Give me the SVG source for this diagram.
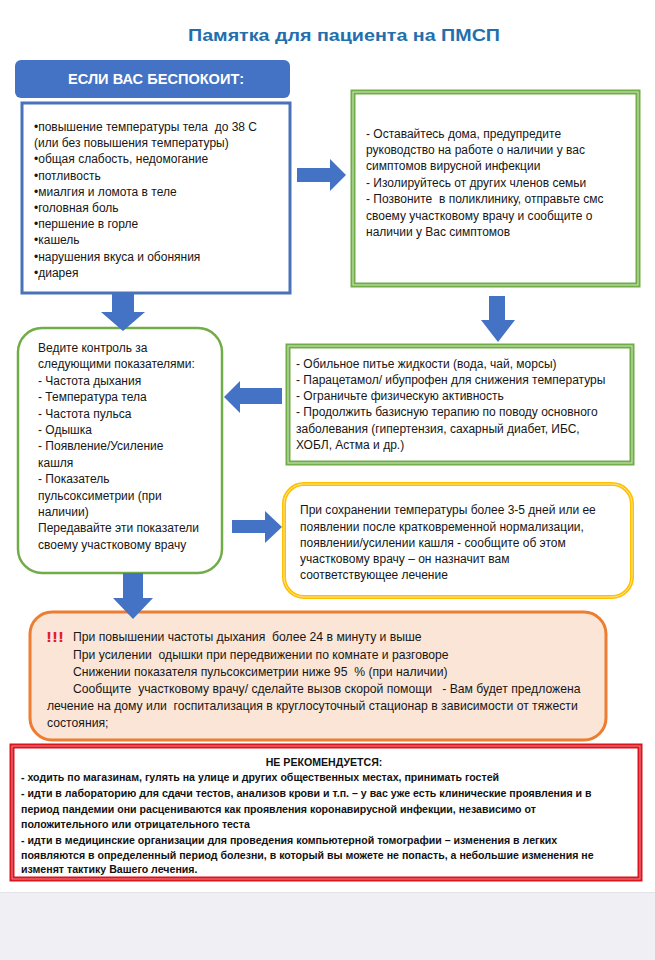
<svg xmlns="http://www.w3.org/2000/svg" width="655" height="960" viewBox="0 0 655 960">
<defs>
<style>
text{white-space:pre}
.t{font-family:"Liberation Sans",Arial,sans-serif;font-size:12px;fill:#161616}
.o{font-family:"Liberation Sans",Arial,sans-serif;font-size:12.2px;fill:#161616}
.r{font-family:"Liberation Sans",Arial,sans-serif;font-size:10.6px;font-weight:bold;fill:#111}
.arrow{fill:#4472c4}
.g{fill:#fff;stroke:#70ad47;stroke-width:5}
.gi{fill:none;stroke:#c5e0b4;stroke-width:1.2}
</style>
</defs>
<rect x="0" y="0" width="655" height="960" fill="#f0eff4"/>
<rect x="0" y="0" width="655" height="892" fill="#ffffff"/>
<line x1="0" y1="892.5" x2="655" y2="892.5" stroke="#e2e2e8" stroke-width="1"/>

<g id="title">
<text x="344" y="41" text-anchor="middle" font-family="Liberation Sans, Arial, sans-serif" font-size="17" font-weight="bold" fill="#236fae" textLength="312" lengthAdjust="spacingAndGlyphs">Памятка для пациента на ПМСП</text>
</g>

<g id="header">
<rect x="15" y="60" width="275" height="38" rx="6" fill="#4472c4"/>
<text x="156" y="84" text-anchor="middle" font-family="Liberation Sans, Arial, sans-serif" font-size="14" font-weight="bold" fill="#fff" textLength="176" lengthAdjust="spacingAndGlyphs">ЕСЛИ ВАС БЕСПОКОИТ:</text>
</g>

<g id="symptoms">
<rect x="22" y="103" width="268" height="190" fill="#fff" stroke="#4a72b8" stroke-width="3"/>
<text class="t" x="34" y="131">•повышение температуры тела  до 38 С</text>
<text class="t" x="34" y="147.2">(или без повышения температуры)</text>
<text class="t" x="34" y="163.4">•общая слабость, недомогание</text>
<text class="t" x="34" y="179.6">•потливость</text>
<text class="t" x="34" y="195.8">•миалгия и ломота в теле</text>
<text class="t" x="34" y="212">•головная боль</text>
<text class="t" x="34" y="228.2">•першение в горле</text>
<text class="t" x="34" y="244.4">•кашель</text>
<text class="t" x="34" y="260.6">•нарушения вкуса и обоняния</text>
<text class="t" x="34" y="276.8">•диарея</text>
</g>

<g id="stay-home">
<rect class="g" x="353" y="92" width="285" height="193"/>
<rect class="gi" x="353" y="92" width="285" height="193"/>
<text class="t" x="366" y="137.5">- Оставайтесь дома, предупредите</text>
<text class="t" x="366" y="153.9">руководство на работе о наличии у вас</text>
<text class="t" x="366" y="170.3">симптомов вирусной инфекции</text>
<text class="t" x="366" y="186.7">- Изолируйтесь от других членов семьи</text>
<text class="t" x="366" y="203.1">- Позвоните  в поликлинику, отправьте смс</text>
<text class="t" x="366" y="219.5">своему участковому врачу и сообщите о</text>
<text class="t" x="366" y="235.9">наличии у Вас симптомов</text>
</g>

<g id="treatment">
<rect class="g" x="288" y="346" width="344" height="117"/>
<rect class="gi" x="288" y="346" width="344" height="117"/>
<text class="t" x="296" y="367.5">- Обильное питье жидкости (вода, чай, морсы)</text>
<text class="t" x="296" y="383.8">- Парацетамол/ ибупрофен для снижения температуры</text>
<text class="t" x="296" y="400.1">- Ограничьте физическую активность</text>
<text class="t" x="296" y="416.4">- Продолжить базисную терапию по поводу основного</text>
<text class="t" x="296" y="432.7">заболевания (гипертензия, сахарный диабет, ИБС,</text>
<text class="t" x="296" y="449">ХОБЛ, Астма и др.)</text>
</g>

<g id="monitoring">
<rect x="18" y="328" width="204" height="245" rx="24" fill="#fff" stroke="#70ad47" stroke-width="2.5"/>
<text class="t" x="38" y="352">Ведите контроль за</text>
<text class="t" x="38" y="368.4">следующими показателями:</text>
<text class="t" x="38" y="384.8">- Частота дыхания</text>
<text class="t" x="38" y="401.2">- Температура тела</text>
<text class="t" x="38" y="417.6">- Частота пульса</text>
<text class="t" x="38" y="434">- Одышка</text>
<text class="t" x="38" y="450.4">- Появление/Усиление</text>
<text class="t" x="38" y="466.8">кашля</text>
<text class="t" x="38" y="483.2">- Показатель</text>
<text class="t" x="38" y="499.6">пульсоксиметрии (при</text>
<text class="t" x="38" y="516">наличии)</text>
<text class="t" x="38" y="532.4">Передавайте эти показатели</text>
<text class="t" x="38" y="548.8">своему участковому врачу</text>
</g>

<g id="persisting-fever">
<rect x="284" y="484" width="348" height="113" rx="20" fill="#fff" stroke="#ffc000" stroke-width="4"/>
<rect x="284" y="484" width="348" height="113" rx="20" fill="none" stroke="#ffe699" stroke-width="1"/>
<text class="t" x="300" y="514">При сохранении температуры более 3-5 дней или ее</text>
<text class="t" x="300" y="530.5">появлении после кратковременной нормализации,</text>
<text class="t" x="300" y="547">появлении/усилении кашля - сообщите об этом</text>
<text class="t" x="300" y="563">участковому врачу – он назначит вам</text>
<text class="t" x="300" y="579">соответствующее лечение</text>
</g>

<g id="urgent">
<rect x="30" y="612" width="576" height="128" rx="22" fill="#fbe5d6" stroke="#ed7d31" stroke-width="3"/>
<text x="46" y="642" font-family="Liberation Sans, Arial, sans-serif" font-size="14" font-weight="bold" fill="#e0202a" textLength="18" lengthAdjust="spacingAndGlyphs">!!!</text>
<text class="o" x="73" y="641">При повышении частоты дыхания  более 24 в минуту и выше</text>
<text class="o" x="73" y="658.5">При усилении  одышки при передвижении по комнате и разговоре</text>
<text class="o" x="73" y="675.5">Снижении показателя пульсоксиметрии ниже 95  % (при наличии)</text>
<text class="o" x="73" y="692.5">Сообщите  участковому врачу/ сделайте вызов скорой помощи   - Вам будет предложена</text>
<text class="o" x="47" y="709.5">лечение на дому или  госпитализация в круглосуточный стационар в зависимости от тяжести</text>
<text class="o" x="47" y="726.5">состояния;</text>
</g>

<g id="not-recommended">
<rect x="12" y="746" width="628" height="133" fill="#fff" stroke="#d9151e" stroke-width="5"/>
<rect x="12" y="746" width="628" height="133" fill="none" stroke="#f08a8f" stroke-width="1"/>
<text class="r" x="324" y="766" text-anchor="middle">НЕ РЕКОМЕНДУЕТСЯ:</text>
<text class="r" x="21" y="780.5">- ходить по магазинам, гулять на улице и других общественных местах, принимать гостей</text>
<text class="r" x="21" y="796.5">- идти в лабораторию для сдачи тестов, анализов крови и т.п. – у вас уже есть клинические проявления и в</text>
<text class="r" x="21" y="812.5">период пандемии они расцениваются как проявления коронавирусной инфекции, независимо от</text>
<text class="r" x="21" y="827.5">положительного или отрицательного теста</text>
<text class="r" x="21" y="843.5">- идти в медицинские организации для проведения компьютерной томографии – изменения в легких</text>
<text class="r" x="21" y="858.5">появляются в определенный период болезни, в который вы можете не попасть, а небольшие изменения не</text>
<text class="r" x="21" y="872.5">изменят тактику Вашего лечения.</text>
</g>

<g id="connectors">
<polygon class="arrow" points="297,168 330,168 330,159 346,175 330,191 330,182 297,182"/>
<polygon class="arrow" points="112,293 134,293 134,312 145,312 123,331 101,312 112,312"/>
<polygon class="arrow" points="489,296 505,296 505,320 515,320 498,342 481,320 489,320"/>
<polygon class="arrow" points="282,388 240,388 240,381 224,397 240,413 240,404 282,404"/>
<polygon class="arrow" points="232,520 265,520 265,511 282,527 265,543 265,533 232,533"/>
<polygon class="arrow" points="123,573 143,573 143,598 153,598 133,619 113,598 123,598"/>
</g>
</svg>
